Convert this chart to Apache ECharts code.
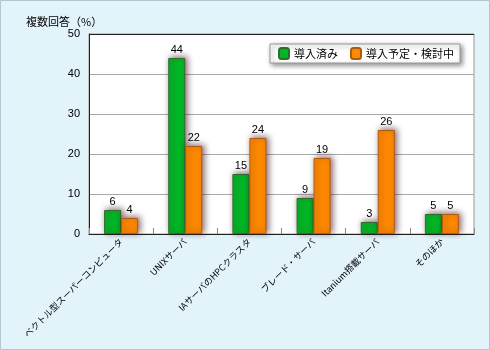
<!DOCTYPE html>
<html><head><meta charset="utf-8">
<script src="https://cdn.jsdelivr.net/npm/echarts@6/dist/echarts.min.js"></script>
<style>
html,body{margin:0;padding:0;}
#c{width:490px;height:350px;background:#e2f3f9;}
</style></head>
<body><div id="c"></div>
<script>
const categories = ['ベクトル型スーパーコンピュータ','UNIXサーバ','IAサーバのHPCクラスタ','ブレード・サーバ','Itanium搭載サーバ','そのほか'];
const seriesNames = ['導入済み','導入予定・検討中'];
const installed = [6,44,15,9,3,5];
const planned = [4,22,24,19,26,5];
const yTicks = {min:0,max:50,interval:10};
const yTitle = '複数回答（%）';

const font = '"Noto Sans CJK JP", "Noto Sans", sans-serif';
const numFont = '"Liberation Sans", Arial, sans-serif';
const chart = echarts.init(document.getElementById('c'));
const shadow = {shadowBlur:6, shadowColor:'rgba(70,20,30,0.65)', shadowOffsetX:2, shadowOffsetY:-1};
chart.setOption({
  animation:false,
  textStyle:{fontFamily:font},
  title:{text:yTitle,left:21,top:11,textStyle:{fontSize:11,fontWeight:'normal',color:'#000',fontFamily:font}},
  legend:{
    data:seriesNames, right:30, top:44, orient:'horizontal',
    itemWidth:10,itemHeight:11,itemGap:12,
    padding:[3,6,3,8],
    backgroundColor:'#fff',borderColor:'#999',borderWidth:1,
    shadowBlur:5,shadowColor:'rgba(0,0,0,0.45)',shadowOffsetX:2,shadowOffsetY:2,
    textStyle:{fontSize:11,color:'#000',fontFamily:font}
  },
  grid:{left:89,right:16,top:34,bottom:116,outerBoundsMode:'none',containLabel:false,show:true,backgroundColor:'#fff',borderColor:'#999',borderWidth:1},
  xAxis:{
    type:'category',data:categories,
    axisLine:{lineStyle:{color:'#222',width:1}},
    axisTick:{show:true,inside:true,length:6,lineStyle:{color:'#888'}},
    axisLabel:{rotate:45,fontSize:9,color:'#000',margin:6,interval:0,fontFamily:font}
  },
  yAxis:{
    type:'value',min:yTicks.min,max:yTicks.max,interval:yTicks.interval,
    axisLine:{show:true,lineStyle:{color:'#222'}},
    axisTick:{show:false},
    axisLabel:{fontSize:11,color:'#000',margin:9,fontFamily:numFont},
    splitLine:{lineStyle:{color:'#a8a8a8'}}
  },
  graphic:[
    {type:'rect',shape:{x:0.5,y:0.5,width:489,height:349},style:{fill:null,stroke:'#b4c6cf',lineWidth:1},z:10,silent:true},
    {type:'line',shape:{x1:89,y1:34.5,x2:474,y2:34.5},style:{stroke:'#222',lineWidth:1},z:10}
  ],
  series:[
    {name:seriesNames[0],type:'bar',data:installed,barWidth:17,barGap:'0%',
     itemStyle:Object.assign({color:'#00b826',borderColor:'#2f6b2f',borderWidth:1},shadow),
     label:{show:true,position:'top',fontSize:11,color:'#000',distance:3,fontFamily:numFont}},
    {name:seriesNames[1],type:'bar',data:planned,barWidth:17,
     itemStyle:Object.assign({color:'#ff8a00',borderColor:'#b05a10',borderWidth:1},shadow),
     label:{show:true,position:'top',fontSize:11,color:'#000',distance:3,fontFamily:numFont}}
  ]
});
</script></body></html>
